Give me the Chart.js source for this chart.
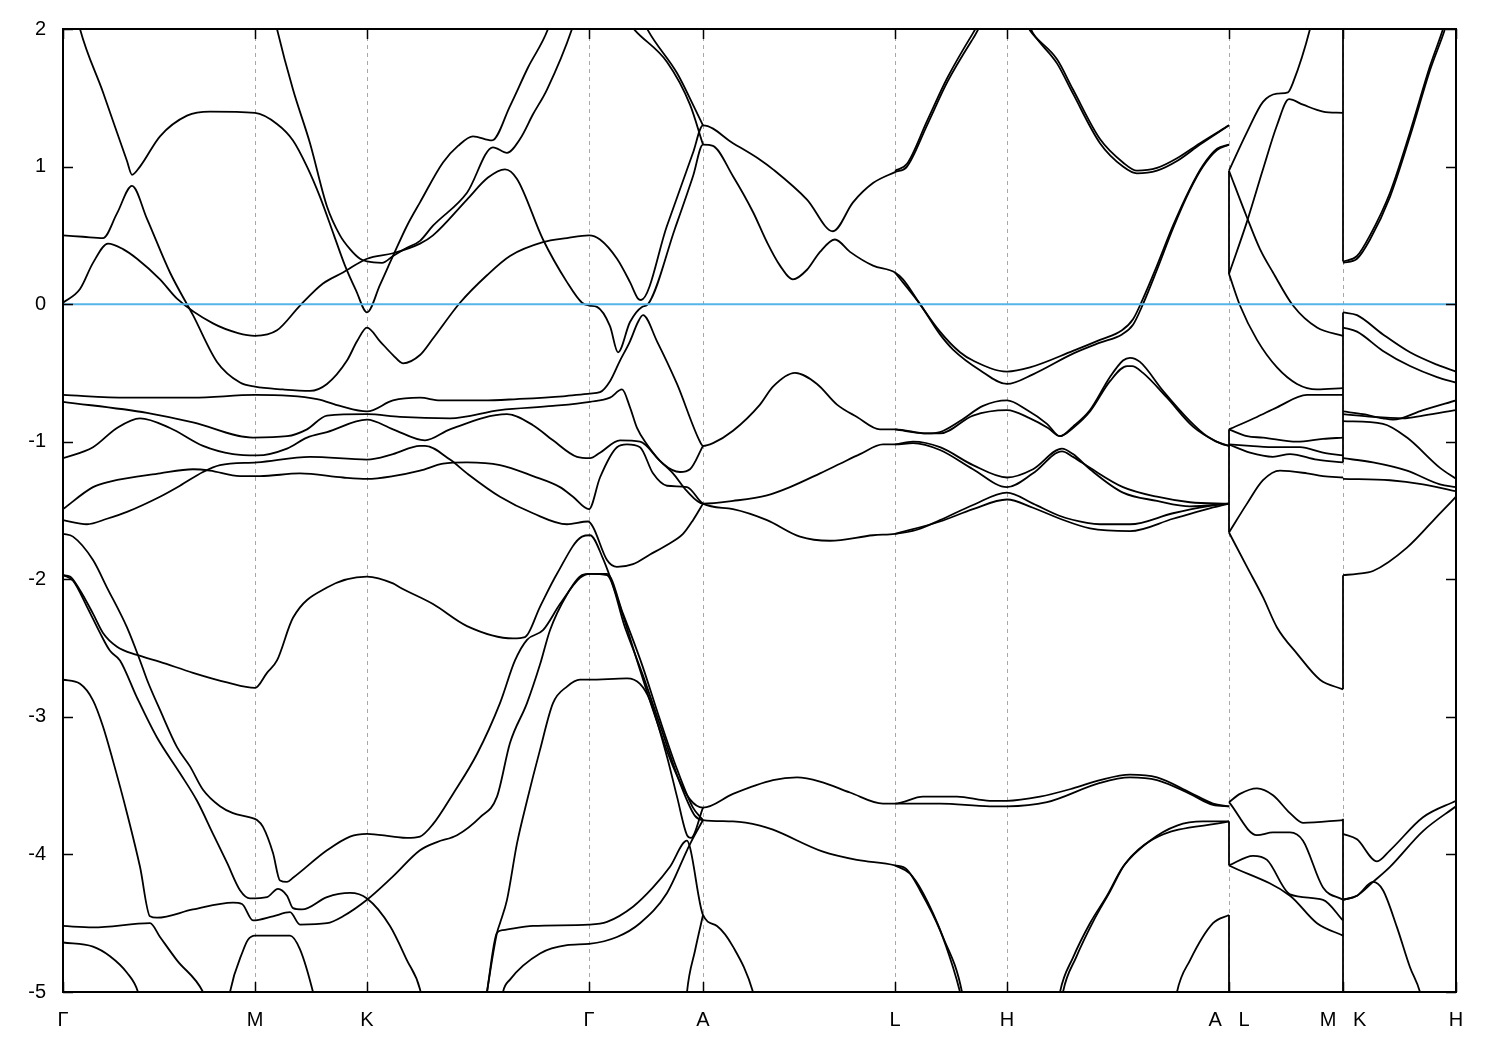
<!DOCTYPE html>
<html>
<head>
<meta charset="utf-8">
<script src="https://cdn.jsdelivr.net/npm/chart.js@4.4.0/dist/chart.umd.min.js"></script>
<style>
body { margin: 0; background: #fff; }
#wrap { width: 1500px; height: 1050px; }
</style>
</head>
<body>
<div id="wrap"><canvas id="bands" width="1500" height="1050"></canvas></div>
<script>
"use strict";

// k-path: positions of the high-symmetry points and their labels
var kTicks = [0, 192, 304, 526, 640, 832, 944, 1166, 1280, 1393];
var kLabels = ["Γ", "M", "K", "Γ", "A", "L", "H", "A   L", "M   K", "H"];
var eTicks = [2, 1, 0, -1, -2, -3, -4, -5];

// bands along Γ-M-K-Γ-A-L-H-A, each point is [k, E(eV)]
var bandC1 = [[14,2.1],[17,2.0],[40,1.54],[64,1.04],[69,0.94],[77,1.0],[97,1.22],[124,1.37],[147,1.40],[192,1.39],[214,1.31],[230,1.19],[244,1.0],[257,0.78],[271,0.50],[282,0.28],[293,0.10],[304,-0.06],[317,0.14],[330,0.35],[344,0.57],[357,0.74],[380,1.03],[395,1.15],[410,1.22],[429,1.19],[447,1.44],[465,1.72],[485,2.0],[490,2.12]];
var bandS1 = [[211,2.1],[214,2.0],[230,1.56],[247,1.17],[264,0.71],[277,0.50],[287,0.40],[297,0.33],[304,0.31],[319,0.30],[330,0.35],[344,0.41],[357,0.46],[370,0.57],[404,0.81],[430,1.14],[444,1.10],[457,1.2],[470,1.38],[484,1.56],[509,2.0],[513,2.1]];
var bandU = [[0,0.01],[17,0.11],[30,0.30],[45,0.44],[60,0.40],[74,0.33],[97,0.18],[114,0.04],[150,-0.14],[175,-0.21],[192,-0.23],[214,-0.19],[237,-0.01],[260,0.15],[280,0.23],[304,0.33],[330,0.37],[357,0.44],[370,0.50],[404,0.76],[425,0.92],[442,0.98],[454,0.91],[480,0.47],[504,0.16],[519,0.01],[526,-0.01],[534,-0.02],[547,-0.16],[555,-0.35],[567,-0.13],[579,-0.02],[585,0.0],[612,0.55],[630,0.93],[640,1.16],[650,1.15],[670,0.93],[690,0.67],[704,0.45],[717,0.28],[730,0.18],[744,0.25],[757,0.38],[772,0.47],[787,0.38],[810,0.28],[832,0.23],[840,0.18],[857,0.0],[877,-0.20],[897,-0.35],[910,-0.41],[944,-0.49],[967,-0.46],[1010,-0.34],[1037,-0.26],[1059,-0.19],[1070,-0.11],[1080,0.04],[1094,0.28],[1110,0.57],[1127,0.84],[1140,1.01],[1154,1.13],[1166,1.16]];
var bandU2 = [[832,0.23],[857,0.0],[877,-0.22],[890,-0.33],[917,-0.48],[944,-0.58],[970,-0.51],[1010,-0.36],[1037,-0.28],[1059,-0.22],[1070,-0.15],[1080,0.0],[1094,0.25],[1110,0.55],[1127,0.83],[1140,1.0],[1154,1.12],[1166,1.16]];
var bandT = [[0,0.50],[20,0.49],[40,0.48],[54,0.66],[69,0.86],[84,0.62],[107,0.23],[130,-0.08],[154,-0.42],[177,-0.57],[192,-0.60],[220,-0.62],[247,-0.63],[264,-0.58],[284,-0.41],[294,-0.27],[304,-0.17],[317,-0.27],[330,-0.37],[340,-0.43],[357,-0.37],[370,-0.25],[397,0.01],[424,0.21],[447,0.35],[480,0.45],[504,0.48],[526,0.50],[537,0.47],[554,0.33],[567,0.16],[575,0.04],[578,0.03],[604,0.57],[630,1.10],[640,1.30],[670,1.17],[697,1.05],[710,0.98],[744,0.76],[770,0.53],[790,0.74],[810,0.88],[832,0.96],[844,1.00],[864,1.30],[884,1.61],[910,1.93],[944,2.3],[967,1.99],[994,1.78],[1010,1.56],[1037,1.20],[1060,1.03],[1074,0.97],[1094,0.99],[1114,1.06],[1137,1.17],[1166,1.30]];
var bandT2 = [[832,0.97],[844,1.02],[864,1.33],[884,1.64],[910,1.97],[944,2.35],[970,1.97],[994,1.75],[1010,1.53],[1037,1.17],[1060,1.00],[1074,0.95],[1094,0.97],[1114,1.04],[1137,1.16],[1166,1.30]];
var bandGA1 = [[560,2.1],[572,1.99],[604,1.76],[627,1.45],[640,1.16]];
var bandGA2 = [[578,2.1],[585,1.99],[614,1.68],[632,1.42],[640,1.30]];
var bandA = [[0,-0.66],[64,-0.68],[130,-0.68],[192,-0.66],[254,-0.69],[277,-0.74],[304,-0.78],[330,-0.70],[357,-0.68],[377,-0.70],[420,-0.70],[454,-0.69],[500,-0.67],[527,-0.65],[537,-0.64],[547,-0.56],[557,-0.41],[567,-0.27],[575,-0.13],[580,-0.08],[594,-0.27],[614,-0.58],[637,-1.0],[640,-1.03],[650,-1.01],[670,-0.92],[697,-0.73],[710,-0.60],[732,-0.50],[754,-0.58],[774,-0.73],[794,-0.82],[817,-0.91],[832,-0.91],[864,-0.94],[877,-0.93],[897,-0.85],[920,-0.74],[944,-0.70],[964,-0.77],[984,-0.87],[997,-0.96],[1010,-0.89],[1027,-0.77],[1047,-0.53],[1060,-0.41],[1067,-0.39],[1077,-0.42],[1100,-0.63],[1127,-0.85],[1144,-0.96],[1160,-1.02],[1166,-1.03]];
var bandA2 = [[832,-0.91],[864,-0.94],[877,-0.94],[910,-0.81],[944,-0.77],[967,-0.83],[985,-0.90],[997,-0.96],[1010,-0.90],[1027,-0.78],[1047,-0.56],[1064,-0.45],[1069,-0.45],[1080,-0.50],[1104,-0.68],[1130,-0.89],[1154,-1.00],[1166,-1.03]];
var bandB = [[0,-0.71],[84,-0.79],[130,-0.86],[190,-0.97],[224,-0.96],[244,-0.91],[264,-0.81],[304,-0.80],[337,-0.82],[387,-0.83],[437,-0.77],[490,-0.74],[527,-0.71],[547,-0.68],[559,-0.62],[567,-0.75],[574,-0.90],[584,-1.02],[600,-1.16],[617,-1.22],[627,-1.20],[640,-1.03]];
var bandC = [[0,-1.12],[30,-1.04],[54,-0.90],[77,-0.83],[107,-0.90],[140,-1.03],[170,-1.09],[194,-1.10],[224,-1.05],[244,-0.97],[264,-0.93],[304,-0.84],[330,-0.91],[362,-0.99],[387,-0.91],[444,-0.80],[470,-0.88],[490,-0.99],[514,-1.11],[527,-1.12],[537,-1.08],[557,-0.99],[577,-1.00],[597,-1.14],[610,-1.23],[624,-1.36],[640,-1.45],[670,-1.43],[704,-1.39],[727,-1.33],[757,-1.23],[777,-1.16],[797,-1.09],[820,-1.02],[832,-1.02],[850,-1.01],[877,-1.06],[910,-1.20],[944,-1.33],[970,-1.23],[999,-1.07],[1010,-1.11],[1027,-1.19],[1060,-1.33],[1094,-1.40],[1127,-1.44],[1166,-1.45]];
var bandC2 = [[832,-1.02],[850,-1.00],[877,-1.04],[910,-1.17],[944,-1.26],[970,-1.20],[999,-1.05],[1010,-1.09],[1027,-1.20],[1060,-1.37],[1094,-1.43],[1127,-1.47],[1166,-1.45]];
var bandD = [[0,-1.49],[30,-1.33],[47,-1.29],[97,-1.23],[130,-1.20],[147,-1.21],[177,-1.25],[197,-1.25],[237,-1.23],[280,-1.26],[304,-1.27],[330,-1.25],[357,-1.21],[380,-1.16],[404,-1.15],[437,-1.17],[470,-1.25],[497,-1.33],[510,-1.40],[526,-1.49],[537,-1.26],[554,-1.04],[564,-1.02],[577,-1.04],[590,-1.23],[604,-1.32],[624,-1.33],[640,-1.45],[670,-1.49],[704,-1.57],[737,-1.69],[767,-1.72],[810,-1.68],[832,-1.67],[854,-1.64],[877,-1.57],[910,-1.46],[944,-1.37],[970,-1.45],[997,-1.54],[1024,-1.59],[1037,-1.60],[1067,-1.60],[1110,-1.52],[1144,-1.47],[1166,-1.45]];
var bandD2 = [[832,-1.67],[877,-1.58],[910,-1.49],[944,-1.42],[970,-1.48],[997,-1.56],[1027,-1.63],[1067,-1.65],[1110,-1.56],[1144,-1.49],[1166,-1.45]];
var bandE = [[0,-1.57],[24,-1.60],[44,-1.56],[64,-1.51],[97,-1.40],[117,-1.32],[140,-1.22],[157,-1.17],[194,-1.15],[247,-1.11],[304,-1.13],[330,-1.09],[357,-1.03],[362,-1.03],[387,-1.13],[404,-1.23],[437,-1.40],[470,-1.52],[504,-1.60],[525,-1.58],[530,-1.62],[544,-1.86],[554,-1.91],[570,-1.89],[587,-1.82],[604,-1.75],[620,-1.67],[630,-1.57],[640,-1.45]];
var bandF = [[0,-1.67],[10,-1.69],[30,-1.86],[44,-2.06],[64,-2.35],[77,-2.59],[84,-2.73],[97,-2.95],[114,-3.22],[127,-3.36],[140,-3.53],[157,-3.65],[170,-3.70],[187,-3.73],[194,-3.75],[200,-3.80],[210,-3.99],[217,-4.19],[224,-4.20],[230,-4.17],[264,-3.97],[287,-3.87],[304,-3.85],[330,-3.87],[344,-3.88],[357,-3.87],[370,-3.78],[390,-3.56],[414,-3.27],[437,-2.90],[452,-2.59],[464,-2.44],[480,-2.37],[497,-2.18],[517,-1.99],[527,-1.96],[544,-1.97],[562,-2.35],[580,-2.70],[598,-3.08],[618,-3.50],[632,-3.72],[640,-3.75],[670,-3.76],[697,-3.79],[710,-3.82],[760,-3.98],[794,-4.04],[832,-4.08],[844,-4.11],[857,-4.26],[877,-4.55],[890,-4.82],[897,-5.0],[900,-5.1]];
var bandF2 = [[832,-4.08],[847,-4.14],[860,-4.28],[880,-4.60],[899,-5.0],[901,-5.1]];
var bandG = [[0,-1.97],[7,-1.98],[17,-2.08],[30,-2.25],[40,-2.39],[54,-2.49],[74,-2.55],[97,-2.60],[130,-2.68],[164,-2.75],[192,-2.79],[204,-2.68],[214,-2.59],[230,-2.28],[264,-2.06],[304,-1.98],[330,-2.03],[337,-2.06],[370,-2.18],[404,-2.34],[450,-2.43],[462,-2.42],[477,-2.20],[494,-1.96],[519,-1.69],[527,-1.68],[540,-1.85],[555,-2.15],[574,-2.59],[590,-2.95],[610,-3.36],[627,-3.60],[640,-3.66],[670,-3.56],[710,-3.46],[734,-3.44],[757,-3.47],[787,-3.55],[820,-3.63],[832,-3.63],[860,-3.58],[894,-3.58],[927,-3.61],[944,-3.61],[977,-3.58],[1010,-3.52],[1037,-3.46],[1067,-3.42],[1094,-3.44],[1127,-3.55],[1150,-3.63],[1166,-3.65]];
var bandG2 = [[832,-3.63],[877,-3.63],[927,-3.65],[944,-3.65],[984,-3.62],[1037,-3.48],[1067,-3.44],[1094,-3.46],[1127,-3.56],[1150,-3.64],[1166,-3.65]];
var bandH = [[0,-1.97],[10,-2.01],[24,-2.20],[37,-2.39],[47,-2.52],[57,-2.59],[74,-2.86],[94,-3.15],[117,-3.41],[134,-3.61],[150,-3.85],[164,-4.06],[177,-4.26],[187,-4.32],[204,-4.31],[215,-4.25],[224,-4.30],[230,-4.39],[239,-4.40],[264,-4.31],[287,-4.28],[304,-4.32],[327,-4.52],[344,-4.77],[357,-4.98],[360,-5.1]];
var bandL1 = [[0,-2.73],[17,-2.76],[30,-2.88],[40,-3.07],[50,-3.32],[64,-3.70],[77,-4.09],[87,-4.45],[94,-4.46],[130,-4.40],[170,-4.35],[179,-4.36],[190,-4.48],[210,-4.45],[227,-4.42],[237,-4.51],[264,-4.50],[280,-4.45],[304,-4.33],[330,-4.16],[357,-3.97],[374,-3.91],[394,-3.86],[417,-3.73],[434,-3.58],[447,-3.19],[464,-2.90],[477,-2.62],[487,-2.37],[504,-2.11],[519,-1.97],[527,-1.96],[544,-1.96],[560,-2.25],[579,-2.62],[596,-3.0],[614,-3.38],[630,-3.66],[640,-3.75]];
var bandL0 = [[0,-4.52],[30,-4.53],[87,-4.50],[97,-4.60],[114,-4.77],[140,-5.0],[145,-5.1]];
var bandL2 = [[0,-4.64],[30,-4.67],[47,-4.74],[64,-4.86],[75,-5.0],[78,-5.1]];
var bandL3 = [[165,-5.1],[167,-5.0],[180,-4.70],[185,-4.62],[192,-4.59],[227,-4.59],[237,-4.69],[250,-5.0],[253,-5.1]];
var bandP = [[422,-5.1],[424,-5.0],[434,-4.57],[437,-4.50],[444,-4.33],[454,-3.92],[464,-3.61],[477,-3.24],[490,-2.90],[504,-2.78],[517,-2.73],[526,-2.73],[564,-2.72],[577,-2.76],[587,-2.88],[604,-3.29],[614,-3.58],[624,-3.86],[628,-3.88],[640,-3.66]];
var bandQ = [[422,-5.1],[424,-5.0],[434,-4.57],[440,-4.55],[470,-4.52],[526,-4.51],[544,-4.49],[570,-4.38],[590,-4.24],[607,-4.09],[624,-3.90],[627,-3.95],[640,-4.44],[654,-4.52],[670,-4.67],[690,-5.0],[693,-5.1]];
var bandR = [[438,-5.1],[440,-5.0],[447,-4.91],[477,-4.72],[504,-4.66],[526,-4.65],[554,-4.60],[577,-4.50],[604,-4.28],[624,-3.97],[628,-3.91],[640,-3.75]];
var bandS = [[623,-5.1],[624,-5.0],[632,-4.70],[640,-4.44]];
var bandV = [[995,-5.1],[997,-5.0],[1010,-4.75],[1027,-4.50],[1044,-4.30],[1060,-4.09],[1087,-3.90],[1114,-3.79],[1140,-3.76],[1166,-3.76]];
var bandV2 = [[998,-5.1],[1000,-5.0],[1013,-4.75],[1030,-4.49],[1047,-4.27],[1062,-4.07],[1090,-3.89],[1166,-3.76]];
var bandW = [[1112,-5.1],[1114,-5.0],[1127,-4.77],[1150,-4.50],[1166,-4.44]];

// bands along L-M
var bandLM1 = [[1166,0.97],[1184,1.25],[1200,1.47],[1214,1.53],[1225,1.54],[1230,1.61],[1247,2.0],[1250,2.1]];
var bandLM2 = [[1166,0.22],[1184,0.60],[1200,0.98],[1214,1.30],[1226,1.49],[1240,1.45],[1260,1.40],[1280,1.39]];
var bandLM3 = [[1166,0.97],[1184,0.63],[1197,0.40],[1210,0.23],[1230,-0.01],[1254,-0.17],[1280,-0.23]];
var bandLM4 = [[1166,0.22],[1177,-0.01],[1194,-0.26],[1214,-0.46],[1234,-0.58],[1254,-0.62],[1280,-0.61]];
var bandLM5 = [[1166,-0.91],[1194,-0.82],[1214,-0.75],[1244,-0.66],[1280,-0.66]];
var bandLM6 = [[1166,-0.91],[1184,-0.96],[1200,-0.97],[1234,-1.00],[1260,-0.98],[1280,-0.97]];
var bandLM7 = [[1166,-1.02],[1187,-1.03],[1214,-1.04],[1237,-1.04],[1260,-1.08],[1280,-1.10]];
var bandLM8 = [[1166,-1.02],[1187,-1.08],[1210,-1.11],[1227,-1.09],[1254,-1.13],[1280,-1.15]];
var bandLM9 = [[1166,-1.66],[1184,-1.45],[1200,-1.28],[1217,-1.21],[1244,-1.23],[1260,-1.25],[1280,-1.26]];
var bandLM10 = [[1166,-1.66],[1184,-1.91],[1200,-2.13],[1214,-2.35],[1234,-2.54],[1257,-2.73],[1280,-2.80]];
var bandLM11 = [[1166,-3.62],[1177,-3.56],[1194,-3.52],[1210,-3.57],[1227,-3.70],[1240,-3.77],[1280,-3.75]];
var bandLM12 = [[1166,-3.62],[1194,-3.86],[1210,-3.84],[1227,-3.84],[1240,-3.90],[1260,-4.24],[1280,-4.33]];
var bandLM13 = [[1166,-4.08],[1190,-4.01],[1204,-4.04],[1227,-4.29],[1260,-4.33],[1280,-4.48]];
var bandLM14 = [[1166,-4.08],[1227,-4.30],[1254,-4.50],[1280,-4.59]];

// bands along K-H
var bandKH1 = [[1280,0.31],[1294,0.35],[1307,0.50],[1327,0.81],[1347,1.25],[1367,1.73],[1380,2.0],[1384,2.1]];
var bandKH1b = [[1280,0.30],[1294,0.33],[1307,0.47],[1327,0.78],[1347,1.22],[1367,1.70],[1382,2.0],[1386,2.1]];
var bandKH2 = [[1280,-0.06],[1294,-0.08],[1320,-0.22],[1347,-0.35],[1374,-0.44],[1393,-0.49]];
var bandKH3 = [[1280,-0.17],[1294,-0.20],[1320,-0.34],[1347,-0.45],[1374,-0.53],[1393,-0.57]];
var bandKH4 = [[1280,-0.78],[1300,-0.80],[1320,-0.83],[1330,-0.84],[1360,-0.77],[1393,-0.70]];
var bandKH5 = [[1280,-0.80],[1310,-0.82],[1340,-0.83],[1360,-0.81],[1393,-0.77]];
var bandKH6 = [[1280,-0.85],[1320,-0.87],[1344,-0.97],[1377,-1.19],[1393,-1.27]];
var bandKH7 = [[1280,-1.12],[1310,-1.15],[1344,-1.21],[1377,-1.31],[1393,-1.33]];
var bandKH8 = [[1280,-1.27],[1327,-1.28],[1360,-1.31],[1393,-1.36]];
var bandKH9 = [[1280,-1.97],[1294,-1.96],[1310,-1.94],[1344,-1.77],[1377,-1.52],[1393,-1.40]];
var bandKH10 = [[1280,-3.85],[1294,-3.89],[1314,-4.05],[1327,-3.97],[1360,-3.73],[1393,-3.61]];
var bandKH11 = [[1280,-4.33],[1294,-4.30],[1310,-4.20],[1327,-4.09],[1360,-3.83],[1393,-3.65]];
var bandKH12 = [[1280,-4.33],[1294,-4.30],[1310,-4.20],[1320,-4.26],[1334,-4.53],[1347,-4.82],[1357,-5.0],[1360,-5.1]];

// vertical jumps where the path is broken (A|L and M|K)
var jumpAL = [[0.97,0.22],[-0.91,-1.66],[-3.76,-4.08],[-4.44,-5.1]];
var jumpMK = [[2.1,0.31],[-0.06,-1.15],[-1.97,-2.80],[-3.74,-5.1]];

var bands = [bandC1, bandS1, bandU, bandU2, bandT, bandT2, bandGA1, bandGA2, bandA, bandA2, bandB,
	bandC, bandC2, bandD, bandD2, bandE, bandF, bandF2, bandG, bandG2, bandH, bandL1, bandL0, bandL2,
	bandL3, bandP, bandQ, bandR, bandS, bandV, bandV2, bandW,
	bandLM1, bandLM2, bandLM3, bandLM4, bandLM5, bandLM6, bandLM7, bandLM8, bandLM9, bandLM10,
	bandLM11, bandLM12, bandLM13, bandLM14,
	bandKH1, bandKH1b, bandKH2, bandKH3, bandKH4, bandKH5, bandKH6, bandKH7, bandKH8, bandKH9,
	bandKH10, bandKH11, bandKH12];

function toXY(pts) {
	return pts.map(function (p) { return {x: p[0], y: p[1]}; });
}

var datasets = [];

// Fermi level, drawn on top
datasets.push({
	data: [{x: 0, y: 0}, {x: 1393, y: 0}],
	showLine: true, pointRadius: 0, borderColor: '#56b4e9', borderWidth: 2, order: 0
});

for (var i = 0; i < bands.length; i++) {
	datasets.push({
		data: toXY(bands[i]),
		showLine: true, pointRadius: 0, borderColor: '#000', borderWidth: 1.8,
		cubicInterpolationMode: 'monotone', order: 1
	});
}

function addJumps(k, list) {
	for (var j = 0; j < list.length; j++) {
		datasets.push({
			data: [{x: k, y: list[j][0]}, {x: k, y: list[j][1]}],
			showLine: true, pointRadius: 0, borderColor: '#000', borderWidth: 1.8, tension: 0, order: 1
		});
	}
}
addJumps(1166, jumpAL);
addJumps(1280, jumpMK);

// border box plus gnuplot-style inward ticks
var framePlugin = {
	id: 'frame',
	afterDatasetsDraw: function (chart) {
		var ctx = chart.ctx, a = chart.chartArea;
		var xs = chart.scales.x, ys = chart.scales.y;
		ctx.save();
		ctx.strokeStyle = '#000';
		ctx.lineWidth = 1.5;
		ctx.beginPath();
		kTicks.forEach(function (k) {
			var px = Math.round(xs.getPixelForValue(k)) + 0.5;
			ctx.moveTo(px, a.bottom); ctx.lineTo(px, a.bottom - 10);
			ctx.moveTo(px, a.top); ctx.lineTo(px, a.top + 10);
		});
		eTicks.forEach(function (e) {
			var py = Math.round(ys.getPixelForValue(e)) + 0.5;
			ctx.moveTo(a.left, py); ctx.lineTo(a.left + 10, py);
			ctx.moveTo(a.right, py); ctx.lineTo(a.right - 10, py);
		});
		ctx.stroke();
		ctx.lineWidth = 2;
		ctx.strokeRect(a.left, a.top, a.right - a.left, a.bottom - a.top);
		ctx.restore();
	}
};

Chart.defaults.font.family = "'Liberation Sans', Arial, sans-serif";
Chart.defaults.font.size = 20;
Chart.defaults.color = '#000';

var bandChart = new Chart(document.getElementById('bands').getContext('2d'), {
	type: 'scatter',
	data: { datasets: datasets },
	plugins: [framePlugin],
	options: {
		responsive: false,
		animation: false,
		layout: { padding: { top: 28, right: 44, left: 0, bottom: 0 } },
		plugins: { legend: { display: false }, tooltip: { enabled: false } },
		scales: {
			x: {
				type: 'linear', min: 0, max: 1393,
				afterBuildTicks: function (scale) {
					scale.ticks = kTicks.map(function (k) { return {value: k}; });
				},
				afterFit: function (scale) { scale.height = 58; },
				ticks: {
					autoSkip: false, maxRotation: 0, padding: 16,
					callback: function (value, index) { return kLabels[index]; }
				},
				grid: {
					drawTicks: false, lineWidth: 1,
					color: function (c) {
						var v = c.tick ? c.tick.value : 0;
						return (v === 0 || v === 1393) ? 'rgba(0,0,0,0)' : '#a8a8a8';
					}
				},
				border: { display: false, dash: [4, 4] }
			},
			y: {
				type: 'linear', min: -5, max: 2,
				afterFit: function (scale) { scale.width = 63; },
				ticks: { stepSize: 1, padding: 17 },
				grid: { display: false, drawTicks: false },
				border: { display: false }
			}
		}
	}
});
</script>
</body>
</html>
